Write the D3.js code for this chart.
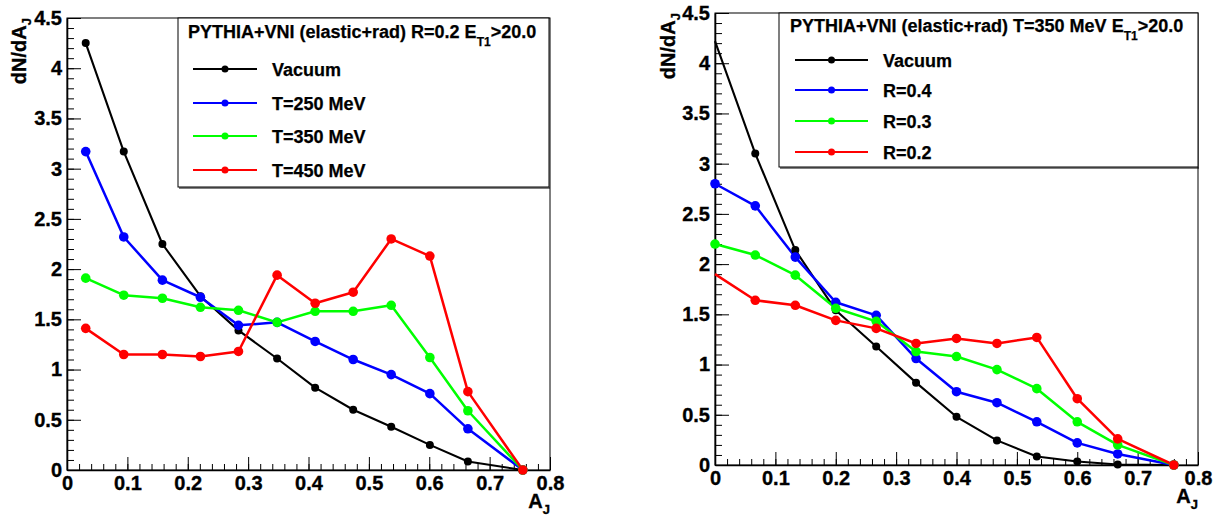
<!DOCTYPE html>
<html><head><meta charset="utf-8">
<script src="https://cdn.jsdelivr.net/npm/d3@7"></script>
<style>
body{margin:0;background:#fff}
svg text{font-family:"Liberation Sans",Arial,Helvetica,sans-serif;font-weight:bold;fill:#000}
</style>
</head><body>
<svg id="c" width="1220" height="517"></svg>
<script>
// ---------- DATA ----------
const leftX  = [0.031, 0.094, 0.158, 0.221, 0.284, 0.348, 0.411, 0.474, 0.537, 0.601, 0.664, 0.755];
const rightX = [0, 0.0667, 0.133, 0.2, 0.267, 0.333, 0.4, 0.467, 0.533, 0.6, 0.667, 0.76];

const leftVacuum = [4.25, 3.17, 2.25, 1.73, 1.39, 1.11, 0.82, 0.60, 0.43, 0.25, 0.085, 0];
const leftT250   = [3.17, 2.32, 1.89, 1.72, 1.44, 1.47, 1.28, 1.10, 0.95, 0.76, 0.41, 0];
const leftT350   = [1.91, 1.74, 1.71, 1.62, 1.59, 1.47, 1.58, 1.58, 1.64, 1.12, 0.59, 0];
const leftT450   = [1.41, 1.15, 1.15, 1.13, 1.18, 1.94, 1.66, 1.77, 2.30, 2.13, 0.78, 0];

const rightVacuum = [4.22, 3.10, 2.14, 1.54, 1.18, 0.82, 0.48, 0.245, 0.085, 0.035, 0.005, 0];
const rightR04    = [2.80, 2.58, 2.07, 1.62, 1.49, 1.06, 0.73, 0.62, 0.43, 0.22, 0.11, 0];
const rightR03    = [2.20, 2.09, 1.89, 1.56, 1.43, 1.13, 1.08, 0.95, 0.76, 0.43, 0.20, 0];
const rightR02    = [1.90, 1.64, 1.59, 1.44, 1.36, 1.21, 1.26, 1.21, 1.27, 0.66, 0.26, 0];

const leftNames  = ["Vacuum", "T=250 MeV", "T=350 MeV", "T=450 MeV"];
const rightNames = ["Vacuum", "R=0.4", "R=0.3", "R=0.2"];
const seriesColors = ["#000000", "#0000ff", "#00ff00", "#ff0000"];

const leftTitle  = ["PYTHIA+VNI (elastic+rad) R=0.2 E", "T1", ">20.0"];
const rightTitle = ["PYTHIA+VNI (elastic+rad) T=350 MeV E", "T1", ">20.0"];

const xTickValues = [0, 0.1, 0.2, 0.3, 0.4, 0.5, 0.6, 0.7, 0.8];
const xTickLabels = ["0", "0.1", "0.2", "0.3", "0.4", "0.5", "0.6", "0.7", "0.8"];
const yTickValues = [0, 0.5, 1, 1.5, 2, 2.5, 3, 3.5, 4, 4.5];
const yTickLabels = ["0", "0.5", "1", "1.5", "2", "2.5", "3", "3.5", "4", "4.5"];

// ---------- DRAW ----------
const svg = d3.select("#c");

function panel(cfg) {
  const g = svg.append("g");
  const x = d3.scaleLinear().domain([0, 0.8]).range([cfg.left, cfg.right]);
  const y = d3.scaleLinear().domain([0, 4.5]).range([cfg.bottom, cfg.top]);

  // frame
  g.append("rect").attr("x", cfg.left).attr("y", cfg.top)
    .attr("width", cfg.right - cfg.left).attr("height", cfg.bottom - cfg.top)
    .attr("fill", "none").attr("stroke", "#000").attr("stroke-width", 1);

  // minor ticks
  const xMinor = d3.range(0, 0.8001, 0.02);
  const yMinor = d3.range(0, 4.5001, 0.1);
  g.append("g").attr("transform", `translate(0,${cfg.bottom})`)
    .call(d3.axisBottom(x).tickValues(xMinor).tickSize(-6).tickSizeOuter(0).tickFormat(""))
    .call(s => s.select(".domain").remove());
  g.append("g").attr("transform", `translate(${cfg.left},0)`)
    .call(d3.axisLeft(y).tickValues(yMinor).tickSize(-7).tickSizeOuter(0).tickFormat(""))
    .call(s => s.select(".domain").remove());

  // major axes
  const xa = g.append("g").attr("transform", `translate(0,${cfg.bottom})`)
    .call(d3.axisBottom(x).tickValues(xTickValues).tickSize(-13).tickSizeOuter(0)
      .tickPadding(6).tickFormat((d, i) => xTickLabels[i]));
  const ya = g.append("g").attr("transform", `translate(${cfg.left},0)`)
    .call(d3.axisLeft(y).tickValues(yTickValues).tickSize(-14).tickSizeOuter(0)
      .tickPadding(5).tickFormat((d, i) => yTickLabels[i]));
  [xa, ya].forEach(a => {
    a.attr("font-family", null);
    a.selectAll("text").attr("font-size", 20).style("font-weight", "bold")
      .attr("stroke", "#000").attr("stroke-width", 0.35);
    a.selectAll(".tick line").attr("stroke", "#000");
    a.select(".domain").attr("stroke", "#000").attr("stroke-width", 1.6);
  });

  // axis titles
  const xt = g.append("text").attr("x", cfg.right).attr("y", cfg.bottom + 38)
    .attr("text-anchor", "end").attr("font-size", 20)
    .attr("stroke", "#000").attr("stroke-width", 0.35).text("A");
  xt.append("tspan").attr("font-size", 13).attr("dy", 6).text("J");
  const yt = g.append("text")
    .attr("transform", `translate(${cfg.ylabX},${cfg.top}) rotate(-90)`)
    .attr("text-anchor", "end").attr("font-size", 20)
    .attr("stroke", "#000").attr("stroke-width", 0.35).text("dN/dA");
  yt.append("tspan").attr("font-size", 13).attr("dy", 5).text("J");

  // series
  const line = d3.line().x((d, i) => x(cfg.xs[i])).y(d => y(d));
  cfg.series.forEach((vals, si) => {
    const col = seriesColors[si];
    g.append("path").attr("d", line(vals)).attr("fill", "none")
      .attr("stroke", col).attr("stroke-width", si === 0 ? 2.1 : 2.5)
      .attr("stroke-linejoin", "round");
  });
  cfg.series.forEach((vals, si) => {
    const col = seriesColors[si];
    g.selectAll(null).data(vals.map((v, i) => [cfg.xs[i], v, i]))
      .enter().filter(d => !(cfg.skipFirst[si] && d[2] === 0))
      .append("circle")
      .attr("cx", d => x(d[0])).attr("cy", d => y(d[1]))
      .attr("r", si === 0 ? 4 : 4.8).attr("fill", col);
  });

  // legend
  const L = cfg.legend;
  g.append("rect").attr("x", L.x0).attr("y", L.y0)
    .attr("width", L.x1 - L.x0).attr("height", L.y1 - L.y0)
    .attr("fill", "#fff").attr("stroke", "#000").attr("stroke-width", 1);
  g.append("line").attr("x1", L.x0 + 1).attr("x2", L.x1 + 1).attr("y1", L.y1 + 1).attr("y2", L.y1 + 1)
    .attr("stroke", "#000").attr("stroke-width", 1);
  const tt = g.append("text").attr("x", L.titleX).attr("y", L.titleY).attr("font-size", 18)
    .attr("stroke", "#000").attr("stroke-width", 0.25).text(cfg.title[0]);
  tt.append("tspan").attr("font-size", 12).attr("dy", 8).text(cfg.title[1]);
  tt.append("tspan").attr("font-size", 18).attr("dy", -8).text(cfg.title[2]);
  cfg.names.forEach((nm, i) => {
    const cy = L.rows[i];
    g.append("line").attr("x1", L.lx0).attr("x2", L.lx1).attr("y1", cy).attr("y2", cy)
      .attr("stroke", seriesColors[i]).attr("stroke-width", 2.2);
    g.append("circle").attr("cx", (L.lx0 + L.lx1) / 2).attr("cy", cy).attr("r", 3.5).attr("fill", seriesColors[i]);
    g.append("text").attr("x", L.textX).attr("y", cy + 6.5).attr("font-size", 18)
      .attr("stroke", "#000").attr("stroke-width", 0.25).text(nm);
  });
}

panel({
  left: 67, right: 550, top: 18, bottom: 470, ylabX: 26,
  xs: leftX, series: [leftVacuum, leftT250, leftT350, leftT450],
  skipFirst: [false, false, false, false],
  names: leftNames, title: leftTitle,
  legend: { x0: 178, x1: 549, y0: 18, y1: 187, titleX: 188, titleY: 38,
            rows: [69, 103, 136, 170], lx0: 193, lx1: 257, textX: 272 }
});
panel({
  left: 715, right: 1198, top: 13, bottom: 465, ylabX: 675,
  xs: rightX, series: [rightVacuum, rightR04, rightR03, rightR02],
  skipFirst: [true, false, false, true],
  names: rightNames, title: rightTitle,
  legend: { x0: 779, x1: 1198, y0: 13, y1: 167, titleX: 790, titleY: 32,
            rows: [60, 90, 121, 152], lx0: 795, lx1: 868, textX: 883 }
});
</script>
</body></html>
